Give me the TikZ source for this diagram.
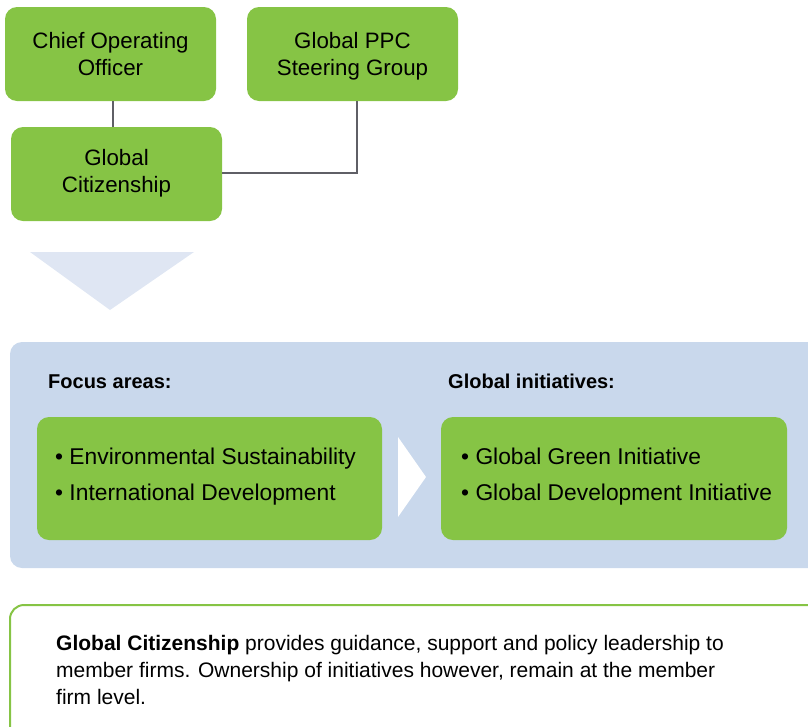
\documentclass[tikz,border=0pt]{standalone}
\usepackage{fontspec}
\setmainfont{Liberation Sans}
\definecolor{kgreen}{RGB}{134,196,69}
\definecolor{kblue}{RGB}{201,216,236}
\definecolor{ktri}{RGB}{223,230,243}
\definecolor{kline}{RGB}{95,95,102}
\newcommand\mytopstrut[1]{\rule{0pt}{#1}}
\newcommand\mybotstrut{\rule[-8pt]{0pt}{8pt}}
\begin{document}
\begin{tikzpicture}[x=1pt,y=-1pt,
  gbox/.style={fill=kgreen,draw=none,rounded corners=12pt,inner sep=0pt,align=center,
    font=\fontsize{22.3}{27}\selectfont},
  conn/.style={draw=kline,line width=2pt},
  lbl/.style={anchor=base west,inner sep=0pt,font=\fontsize{22.8}{27}\selectfont},
  hdr/.style={anchor=base west,inner sep=0pt,font=\fontsize{20}{24}\selectfont\bfseries}]
\useasboundingbox (0,0) rectangle (808,726);
\clip (0,0) rectangle (808,726);
% top org boxes
\node[gbox,minimum width=211pt,minimum height=94pt] (coo) at (110.5,54)
  {\mytopstrut{23pt}Chief Operating\\Officer\mybotstrut};
\node[gbox,minimum width=211pt,minimum height=94pt] (ppc) at (352.5,54)
  {\mytopstrut{23pt}Global PPC\\Steering Group\mybotstrut};
\node[gbox,minimum width=211pt,minimum height=94pt] (gc) at (116.5,174)
  {\mytopstrut{18pt}Global\\Citizenship\mybotstrut};
\draw[conn] (coo.south -| 113,0) -- (gc.north -| 113,0);
\coordinate (bend) at (357,173);
\draw[conn] (gc.east |- bend) -- (bend) -- (ppc.south -| bend);
% down triangle
\fill[ktri] (30,252) -- (194,252) -- (110,310) -- cycle;
% blue area
\fill[kblue,rounded corners=12pt] (10,342) rectangle (840,568);
\node[hdr] (fa) at (48,388) {Focus areas:};
\node[hdr] (gi) at (448,388) {Global initiatives:};
\node[gbox,minimum width=345pt,minimum height=123pt] (left) at (209.5,478.5) {};
\node[gbox,minimum width=346pt,minimum height=123pt] (right) at (614,478.5) {};
\fill[white] (398,437) -- (426,477) -- (398,517) -- cycle;
\node[lbl] (l1) at (55,464) {• Environmental Sustainability};
\node[lbl] (l2) at (55,500) {• International Development};
\node[lbl] (r1) at (461,464) {• Global Green Initiative};
\node[lbl] (r2) at (461,500) {• Global Development Initiative};
% bottom note
\draw[kgreen,line width=2pt,rounded corners=14pt] (10,605) rectangle (840,760);
\node[anchor=north west,inner sep=0pt,align=left,font=\fontsize{21}{27}\selectfont] (note) at (56,631)
  {\strut\textbf{Global Citizenship} provides guidance, support and policy leadership to\\
   member firms. Ownership of initiatives however, remain at the member\\
   firm level.};
\end{tikzpicture}
\end{document}
